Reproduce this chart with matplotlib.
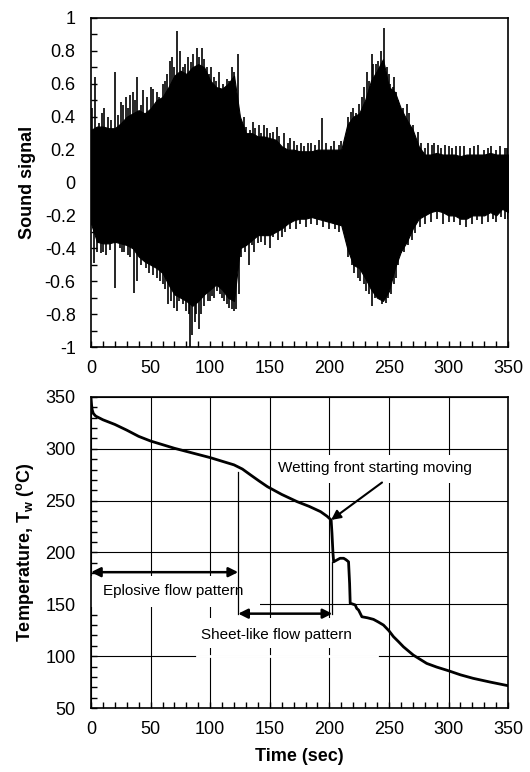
import matplotlib
matplotlib.use("Agg")
import matplotlib.pyplot as plt
from matplotlib.ticker import MultipleLocator, FuncFormatter
from matplotlib.patches import Rectangle

plt.rcParams['font.family'] = ['Liberation Sans', 'DejaVu Sans']
plt.rcParams['mathtext.fontset'] = 'custom'
plt.rcParams['mathtext.rm'] = 'Liberation Sans:bold'
plt.rcParams['mathtext.it'] = 'Liberation Sans:bold'
plt.rcParams['mathtext.bf'] = 'Liberation Sans:bold'

# sound signal envelope, read every 5 s
env_t = list(range(0, 355, 5))
env_hi = [0.32, 0.34, 0.34, 0.33, 0.33, 0.36, 0.40, 0.42, 0.44, 0.42,
          0.45, 0.50, 0.52, 0.58, 0.65, 0.68, 0.66, 0.70, 0.72, 0.70,
          0.62, 0.58, 0.57, 0.60, 0.65, 0.40, 0.30, 0.30, 0.28, 0.28,
          0.27, 0.26, 0.22, 0.20, 0.20, 0.19, 0.19, 0.19, 0.20, 0.20,
          0.20, 0.20, 0.20, 0.35, 0.40, 0.42, 0.50, 0.62, 0.68, 0.75,
          0.58, 0.55, 0.45, 0.38, 0.32, 0.22, 0.17, 0.17, 0.18, 0.17,
          0.17, 0.17, 0.16, 0.17, 0.17, 0.17, 0.17, 0.18, 0.17, 0.17,
          0.17]
env_lo = [-0.25, -0.36, -0.37, -0.37, -0.36, -0.37, -0.38, -0.40, -0.45, -0.48,
          -0.50, -0.52, -0.55, -0.62, -0.68, -0.70, -0.72, -0.75, -0.72, -0.68,
          -0.65, -0.62, -0.65, -0.70, -0.72, -0.40, -0.38, -0.35, -0.32, -0.32,
          -0.32, -0.30, -0.28, -0.25, -0.23, -0.22, -0.22, -0.21, -0.22, -0.23,
          -0.24, -0.25, -0.26, -0.40, -0.50, -0.52, -0.58, -0.65, -0.70, -0.72,
          -0.66, -0.52, -0.42, -0.36, -0.28, -0.22, -0.20, -0.18, -0.17, -0.18,
          -0.20, -0.20, -0.22, -0.22, -0.20, -0.20, -0.20, -0.18, -0.20, -0.16,
          -0.18]

# individual peaks of the sound signal (positive side)
spike_up_t = [1, 9, 20, 25.5, 31, 39, 47, 55, 60, 64, 68, 72, 75, 79, 83.7,
              86, 88.7, 91, 93.5, 97, 103, 107, 111, 114, 120, 123.5, 128,
              136, 141, 147.7, 156, 162, 167, 176, 185, 194, 204, 213, 218,
              222, 227, 231.7, 235.8, 239, 243, 245.6, 248, 251, 254.6, 258,
              261.6, 267.2, 274, 283, 291, 300, 310, 318, 330, 340, 347,
              3, 7, 11, 14, 17, 23, 27, 29, 33, 35, 37, 42, 44, 50, 52, 57,
              62, 66, 70, 77, 81, 95, 99, 101, 105, 109, 116, 118,
              130, 133, 138, 143, 145, 150, 153, 158, 165, 170, 173, 179,
              182, 188, 191, 197, 201, 208, 210, 216, 220,
              225, 229, 233, 237, 241, 250, 253, 256, 263, 265, 270, 277,
              280, 286, 288, 294, 297, 303, 306, 313, 321, 325, 333, 336,
              343, 349]
spike_up_v = [0.45, 0.42, 0.67, 0.49, 0.45, 0.64, 0.52, 0.55, 0.60, 0.66,
              0.76, 0.92, 0.80, 0.72, 0.73, 0.78, 0.82, 0.76, 0.82, 0.70,
              0.64, 0.67, 0.60, 0.63, 0.67, 0.78, 0.40, 0.37, 0.35, 0.33,
              0.34, 0.30, 0.27, 0.24, 0.24, 0.39, 0.25, 0.24, 0.43, 0.42,
              0.52, 0.67, 0.78, 0.72, 0.80, 0.94, 0.70, 0.60, 0.64, 0.50,
              0.45, 0.42, 0.31, 0.24, 0.23, 0.22, 0.22, 0.21, 0.20, 0.20, 0.21,
              0.64, 0.36, 0.45, 0.40, 0.38, 0.41, 0.47, 0.52, 0.53, 0.55,
              0.50, 0.47, 0.56, 0.58, 0.57, 0.52, 0.62, 0.74, 0.70, 0.70,
              0.76, 0.75, 0.66, 0.70, 0.62, 0.57, 0.62, 0.70,
              0.34, 0.32, 0.33, 0.30, 0.35, 0.30, 0.31, 0.28, 0.24, 0.25,
              0.23, 0.22, 0.24, 0.23, 0.26, 0.24, 0.22, 0.23, 0.25, 0.40, 0.45,
              0.48, 0.58, 0.62, 0.72, 0.74, 0.66, 0.58, 0.55, 0.40, 0.48,
              0.35, 0.24, 0.21, 0.23, 0.24, 0.21, 0.23, 0.21, 0.22, 0.22,
              0.22, 0.23, 0.21, 0.22, 0.22, 0.21]

# individual peaks of the sound signal (negative side)
spike_dn_t = [5, 13, 20, 28, 36, 39, 46, 52, 58, 65, 70, 74, 77, 80, 83.3,
              85, 88, 90.7, 95, 98, 101.3, 106, 110, 114, 118, 122, 126,
              132.6, 140, 150.5, 160, 172, 190, 205, 213, 219, 224, 229,
              233, 235.8, 238, 241.4, 244, 247.6, 252, 256, 260, 266, 272,
              285, 300, 315, 328, 340, 347,
              2.5, 8, 10, 16, 24, 26, 31, 33, 42, 44, 49, 55, 60, 62, 67, 72,
              82, 87, 92, 100, 103, 108, 112, 116, 120, 124, 129, 135, 137,
              143, 146, 153, 157, 163, 167, 175, 180, 185, 195, 200, 208,
              216, 221, 226, 231, 249, 254, 258, 263, 269, 276, 280, 290,
              295, 305, 310, 320, 324, 333, 337, 344, 350]
spike_dn_v = [-0.42, -0.44, -0.64, -0.42, -0.67, -0.60, -0.52, -0.56, -0.60,
              -0.74, -0.76, -0.72, -0.74, -0.78, -1.00, -0.93, -0.80, -0.89,
              -0.75, -0.72, -0.69, -0.66, -0.70, -0.74, -0.77, -0.77, -0.45,
              -0.50, -0.37, -0.40, -0.33, -0.28, -0.26, -0.28, -0.30, -0.50,
              -0.58, -0.62, -0.68, -0.75, -0.70, -0.70, -0.74, -0.73, -0.68,
              -0.58, -0.43, -0.38, -0.31, -0.24, -0.24, -0.27, -0.25, -0.24, -0.22,
              -0.49, -0.43, -0.42, -0.41, -0.40, -0.42, -0.44, -0.45, -0.50,
              -0.47, -0.55, -0.58, -0.62, -0.65, -0.72, -0.78, -0.80, -0.85,
              -0.80, -0.72, -0.70, -0.68, -0.72, -0.76, -0.78, -0.68, -0.42,
              -0.38, -0.42, -0.36, -0.38, -0.33, -0.35, -0.30, -0.28, -0.25,
              -0.27, -0.25, -0.27, -0.28, -0.30, -0.45, -0.55, -0.60, -0.66,
              -0.70, -0.62, -0.50, -0.42, -0.35, -0.27, -0.25, -0.22, -0.25,
              -0.24, -0.26, -0.25, -0.23, -0.24, -0.22, -0.21, -0.22]

# wall temperature
temp_t = [0, 0.5, 1, 2, 4, 10, 20, 30, 40, 50, 60, 70, 80, 90, 100, 110, 120,
          127, 134, 141, 148, 160, 173, 183, 192.6, 198, 201.5, 202.2, 203,
          203.6, 206.4, 209, 212, 214, 216.1, 217, 217.5, 219, 221.7, 223,
          224.5, 227.3, 232, 237, 241, 245.4, 250, 253.8, 258, 262.2, 270.5,
          281.7, 290, 299.8, 310, 320.7, 335, 350]
temp_T = [349, 342, 337.5, 334, 331.5, 328, 323.5, 318, 312, 307.5, 304,
          300.5, 297.5, 294.5, 291.5, 288, 284.5, 280.5, 274.7, 269, 263.5,
          256, 249, 244.5, 239.4, 235, 231.4, 218.5, 200, 191, 192.8, 194.4,
          194.4, 193, 191, 170, 151, 150.5, 149.4, 146, 144.5, 138, 137,
          135.5, 133, 130, 124.5, 118.8, 114, 109, 101, 93, 89.5, 86, 82,
          78.6, 75, 71.5]

fig = plt.figure(figsize=(5.30, 7.72), dpi=100)
ax1 = fig.add_axes([0.1717, 0.5505, 0.787, 0.4262])
ax2 = fig.add_axes([0.1717, 0.0829, 0.787, 0.4029])

# --- top: sound signal
ax1.fill_between(env_t, env_lo, env_hi, color='k', lw=0.8)
ax1.vlines(spike_up_t, 0, spike_up_v, color='k', lw=1.2)
ax1.vlines(spike_dn_t, 0, spike_dn_v, color='k', lw=1.2)
ax1.set_xlim(0, 350)
ax1.set_ylim(-1, 1)
ax1.xaxis.set_major_locator(MultipleLocator(50))
ax1.xaxis.set_minor_locator(MultipleLocator(10))
ax1.yaxis.set_major_locator(MultipleLocator(0.2))
ax1.yaxis.set_minor_locator(MultipleLocator(0.1))
ax1.yaxis.set_major_formatter(FuncFormatter(lambda v, p: '%g' % (round(v, 1) + 0.0)))
ax1.set_ylabel('Sound signal', fontsize=13, fontweight='bold')
ax1.yaxis.set_label_coords(-0.133, 0.5)

# --- bottom: temperature
ax2.set_axisbelow(True)
ax2.grid(True, which='major', color='k', lw=0.8)
ax2.plot(temp_t, temp_T, color='k', lw=2, zorder=3, solid_joinstyle='round')
ax2.set_xlim(0, 350)
ax2.set_ylim(50, 350)
ax2.xaxis.set_major_locator(MultipleLocator(50))
ax2.xaxis.set_minor_locator(MultipleLocator(10))
ax2.yaxis.set_major_locator(MultipleLocator(50))
ax2.yaxis.set_minor_locator(MultipleLocator(10))
ax2.set_xlabel('Time (sec)', fontsize=13, fontweight='bold')
ax2.xaxis.set_label_coords(0.5, -0.128)
ax2.set_ylabel(r'Temperature, T$_{\rm w}$ ($^{\rm o}$C)', fontsize=13, fontweight='bold')
ax2.yaxis.set_label_coords(-0.133, 0.5)

for ax in (ax1, ax2):
    ax.tick_params(which='both', direction='in', length=4, width=1,
                   top=False, right=False, labelsize=13)
    ax.tick_params(axis='x', pad=9)
    ax.tick_params(axis='y', pad=11)
    for s in ax.spines.values():
        s.set_linewidth(1.2)

# white label boxes that break the grid
ax2.add_patch(Rectangle((0, 147.5), 142, 29.5, fc='white', ec='none', zorder=1))
ax2.add_patch(Rectangle((89, 108), 151, 29, fc='white', ec='none', zorder=1))
ax2.plot([89, 240], [100, 100], color='white', lw=2, zorder=1)
ax2.add_patch(Rectangle((153, 267), 172, 27, fc='white', ec='none', zorder=1))

# marker lines
ax2.plot([123.5, 123.5], [278, 141], color='k', lw=0.9, zorder=2)
ax2.plot([202.5, 202.5], [191, 141], color='k', lw=0.9, zorder=2)

arr = dict(arrowstyle='<|-|>', color='k', lw=1.8, mutation_scale=14, shrinkA=0, shrinkB=0)
ax2.annotate('', xy=(0, 181), xytext=(123.5, 181), arrowprops=arr, zorder=4)
ax2.annotate('', xy=(123.5, 141), xytext=(202.5, 141), arrowprops=arr, zorder=4)
ax2.annotate('', xy=(201.5, 231.4), xytext=(244.2, 267.5),
             arrowprops=dict(arrowstyle='-|>', color='k', lw=1.5, mutation_scale=14,
                             shrinkA=0, shrinkB=0), zorder=4)

ax2.text(10, 163, 'Eplosive flow pattern', fontsize=11, va='center', ha='left', zorder=5)
ax2.text(92, 120, 'Sheet-like flow pattern', fontsize=11, va='center', ha='left', zorder=5)
ax2.text(157, 281.5, 'Wetting front starting moving', fontsize=11, va='center', ha='left', zorder=5)

fig.savefig('out.png', dpi=100)
